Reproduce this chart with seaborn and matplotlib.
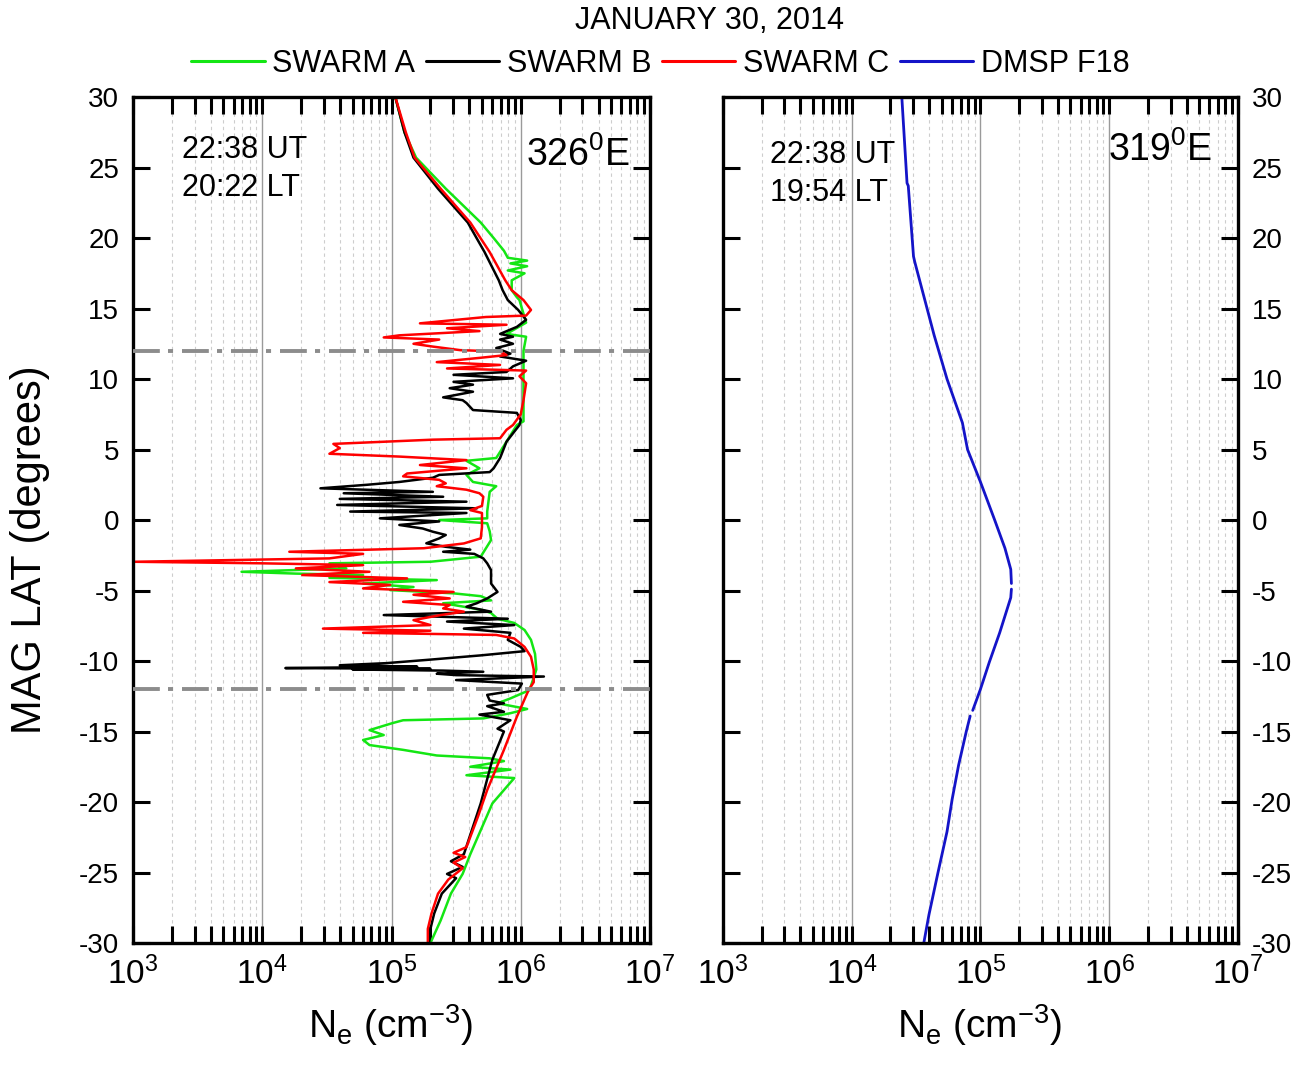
import matplotlib
matplotlib.use('Agg')
import matplotlib.pyplot as plt
import numpy as np
import seaborn as sns
from matplotlib.font_manager import FontProperties
from matplotlib.ticker import LogLocator, NullFormatter

sns.set_theme(style='white')
plt.rcParams['font.family'] = ['Liberation Sans', 'DejaVu Sans']
plt.rcParams['text.color'] = 'black'
plt.rcParams['axes.labelcolor'] = 'black'
plt.rcParams['xtick.color'] = 'black'
plt.rcParams['ytick.color'] = 'black'
NARROW = ['Liberation Sans Narrow', 'Liberation Sans', 'DejaVu Sans']

# ---- data: magnetic latitude (deg) vs electron density (cm^-3) ----
swarm_b_lat = [30.0, 27.5, 25.7, 23.5, 21.1, 19.0, 17.0, 16.3, 15.6, 14.9, 14.2, 13.7, 13.2, 13.0,
               12.8, 12.5, 12.2, 11.8, 11.6, 11.3, 10.9, 10.5, 10.3, 10.05, 9.8, 9.6, 9.35, 9.1,
               8.7, 8.5, 8.3, 7.8, 7.6, 7.1, 6.74, 5.56, 4.4, 3.67, 3.4, 3.2, 3.0, 2.7, 2.5, 2.25,
               2.0, 1.9, 1.65, 1.5, 1.3, 1.07, 0.83, 0.6, 0.5, 0.12, -0.1, -0.35, -0.6, -0.83,
               -1.06, -1.3, -1.65, -1.9, -2.1, -2.25, -2.4, -2.72, -3.07, -3.55, -4.0, -4.5, -5.1,
               -5.56, -5.9, -6.15, -6.5, -6.74, -7.0, -7.2, -7.45, -7.7, -8.0, -8.5, -9.0, -9.3,
               -9.6, -9.9, -10.15, -10.3, -10.4, -10.5, -10.55, -10.6, -10.68, -10.76, -10.9,
               -11.0, -11.1, -11.35, -11.6, -12.06,
               -12.4, -12.8, -13.0, -13.2, -13.6, -13.8, -14.2, -14.8, -15.0, -17.0, -20.1,
               -23.7, -24.2, -24.6, -25.1, -25.4, -26.5, -27.9, -29.0, -30.0]
swarm_b_ne = [1.07e5, 1.26e5, 1.48e5, 2.29e5, 3.89e5, 5.25e5, 6.76e5, 7.24e5, 7.94e5, 9.55e5, 1.10e6,
              9.33e5, 6.92e5, 8.71e5, 6.92e5, 8.71e5, 6.46e5, 8.32e5, 6.92e5, 1.10e6, 8.71e5, 7.76e5,
              3.02e5, 8.71e5, 3.02e5, 4.27e5, 2.82e5, 4.27e5, 2.51e5, 3.55e5, 3.80e5, 4.27e5, 9.33e5,
              1.00e6, 9.77e5, 7.76e5, 6.92e5, 6.17e5, 5.75e5, 2.34e5, 2.09e5, 1.15e5, 6.46e4, 2.82e4,
              2.09e5, 4.27e4, 2.51e5, 3.98e4, 3.80e5, 3.80e4, 4.57e5, 4.79e4, 3.80e5, 8.13e4, 2.34e5,
              1.15e5, 1.74e5, 2.09e5, 2.63e5, 2.34e5, 1.86e5, 2.63e5, 4.07e5, 2.51e5, 4.37e5, 5.13e5,
              5.50e5, 5.89e5, 5.89e5, 5.89e5, 6.61e5, 5.50e5, 4.57e5, 3.80e5, 5.89e5, 8.71e4, 7.94e5,
              2.69e5, 8.91e5, 3.63e5, 8.32e5, 7.94e5, 1.00e6, 1.07e6, 4.90e5, 2.00e5,
              9.12e4, 3.98e4, 1.58e5, 1.51e4, 2.00e5, 5.01e4, 2.51e5, 5.13e5, 2.24e5,
              3.16e5, 1.51e6, 3.16e5, 1.02e6, 9.55e5, 5.50e5, 5.75e5, 7.41e5, 5.50e5,
              7.41e5, 4.79e5, 8.32e5, 6.61e5, 7.41e5, 6.03e5, 4.90e5, 3.63e5, 2.88e5, 3.55e5, 2.69e5,
              3.16e5, 2.45e5, 2.14e5, 2.00e5, 1.95e5]

swarm_c_lat = [30.0, 27.5, 25.7, 23.5, 21.1, 19.0, 17.0, 16.3, 15.6, 14.9, 14.5, 14.4, 13.95, 13.85,
               13.6, 13.4, 13.1, 12.95, 12.8, 12.5, 12.3, 12.05, 11.95, 11.7, 11.5, 11.2, 11.0,
               10.75, 10.6, 10.2, 9.7, 8.5, 7.5, 6.74, 6.4, 5.8, 5.7, 5.4, 5.1, 4.7, 4.5, 4.25, 3.9,
               3.67, 3.3, 3.1, 2.85, 2.6, 2.4, 2.15, 1.9, 1.65, 1.0, 0.7, 0.5, -0.5, -1.3, -1.66,
               -2.0, -2.25, -2.4, -2.72, -2.96, -3.07, -3.2, -3.43, -3.67, -3.9, -4.14, -4.4, -4.6,
               -4.85, -5.1, -5.3, -5.56, -5.8, -6.03, -6.27, -6.5, -6.74, -7.1, -7.45, -7.7, -7.85,
               -8.0, -8.15, -8.4, -9.0, -9.7, -10.6, -11.5, -12.06, -13.95, -16.3, -19.15, -21.0,
               -23.2, -23.6, -23.9, -24.3, -24.7, -25.5, -26.5, -27.9, -29.0, -30.0]
swarm_c_ne = [1.07e5, 1.29e5, 1.51e5, 2.40e5, 4.07e5, 5.75e5, 7.59e5, 8.51e5, 1.05e6, 1.20e6, 1.10e6,
              5.37e5, 1.66e5, 7.76e5, 2.69e5, 4.79e5, 1.15e5, 8.71e4, 2.34e5, 1.48e5, 2.09e5, 3.39e5,
              6.92e5, 7.76e5, 4.79e5, 2.24e5, 6.92e5, 2.69e5, 1.10e6, 9.77e5, 1.10e6, 1.05e6, 1.00e6,
              8.71e5, 7.76e5, 6.92e5, 2.09e5, 3.55e4, 3.98e4, 3.31e4, 1.15e5, 3.80e5, 1.66e5, 3.80e5,
              1.32e5, 1.23e5, 2.34e5, 2.63e5, 2.24e5, 3.80e5, 4.79e5, 5.13e5, 5.01e5, 4.07e5, 5.01e5,
              5.01e5, 4.90e5, 3.63e5, 1.78e5, 1.62e4, 6.03e4, 3.31e4, 1.02e3, 1.00e4, 6.03e4, 1.82e4,
              6.76e4, 2.04e4, 1.32e5, 3.31e4, 9.77e4, 6.03e4, 3.02e5, 1.48e5, 2.82e5, 1.23e5, 2.82e5,
              2.51e5, 3.63e5, 2.40e5, 1.48e5, 2.00e5, 2.95e4, 2.00e5, 6.03e4, 6.46e5, 8.91e5, 1.07e6,
              1.20e6, 1.26e6, 1.26e6, 1.15e6, 9.33e5, 7.41e5, 5.50e5, 4.68e5, 3.80e5, 3.02e5, 3.72e5,
              3.02e5, 3.55e5, 2.75e5, 2.29e5, 2.04e5, 1.91e5, 1.91e5]

swarm_a_lat = [30.0, 27.5, 25.7, 23.5, 21.1, 20.0, 19.1, 18.6, 18.4, 18.2, 18.0, 17.7, 17.5, 17.0,
               16.3, 15.8, 15.6, 14.0, 13.2, 13.0, 12.0, 7.0, 6.74, 5.56, 4.4, 4.2, 3.67, 3.2, 2.7,
               2.4, 2.0, 0.6, 0.12, 0.0, -0.23, -0.8, -1.42, -2.6, -2.96, -3.07, -3.43, -3.67, -3.8,
               -3.9, -4.1, -4.26, -4.5, -4.75, -4.97, -5.2, -5.4, -5.7, -5.9, -6.15, -6.4, -6.6,
               -7.0, -7.3, -7.8, -8.5, -9.5, -10.6, -12.06, -12.65, -13.0, -13.4, -13.7, -14.07,
               -14.2, -14.4, -14.9, -15.25, -15.6, -15.96, -16.3, -16.7, -16.9, -17.1, -17.5, -17.7,
               -18.1, -18.3, -20.1, -23.7, -25.1, -26.5, -28.4, -30.0]
swarm_a_ne = [1.07e5, 1.26e5, 1.55e5, 2.63e5, 4.90e5, 6.17e5, 7.41e5, 7.94e5, 1.12e6, 8.32e5, 1.12e6,
              7.94e5, 1.07e6, 8.51e5, 8.51e5, 9.33e5, 9.77e5, 1.10e6, 7.76e5, 1.10e6, 1.05e6, 1.05e6,
              9.33e5, 7.76e5, 6.46e5, 3.80e5, 4.79e5, 3.80e5, 4.27e5, 6.46e5, 5.75e5, 5.50e5, 5.50e5,
              2.34e5, 5.50e5, 5.75e5, 5.89e5, 4.90e5, 2.00e5, 3.31e4, 4.47e4, 6.92e3, 1.82e4, 6.03e4,
              3.31e4, 2.24e5, 6.03e4, 1.48e5, 9.77e4, 3.02e5, 4.90e5, 5.89e5, 2.51e5, 3.63e5, 5.13e5,
              5.89e5, 6.61e5, 8.91e5, 1.07e6, 1.20e6, 1.29e6, 1.32e6, 1.17e6, 8.32e5, 6.61e5, 1.12e6,
              8.32e5, 5.13e5, 1.23e5, 1.02e5, 6.76e4, 8.71e4, 6.03e4, 6.76e4, 1.23e5, 2.24e5, 5.75e5,
              7.41e5, 4.07e5, 8.32e5, 3.80e5, 8.91e5, 6.03e5, 4.07e5, 3.55e5, 2.88e5, 2.40e5, 2.00e5]

dmsp_lat = [30.0, 23.9, 23.7, 18.7, 18.3, 13.1, 10.0, 6.9, 5.0, 2.7, 0.0, -2.0, -3.5, -4.5,
            -4.9, -5.5, -8.0, -10.1, -12.0, -13.5,
            -13.9, -15.0, -17.4, -19.8, -22.1, -25.0, -28.0, -30.0]
dmsp_ne = [2.45e4, 2.69e4, 2.75e4, 3.02e4, 3.09e4, 4.37e4, 5.50e4, 7.24e4, 7.94e4, 1.00e5, 1.29e5,
           1.55e5, 1.72e5, 1.74e5,
           1.74e5, 1.72e5, 1.41e5, 1.17e5, 1.00e5, 8.71e4,
           8.32e4, 7.76e4, 6.76e4, 6.03e4, 5.50e4, 4.68e4, 3.98e4, 3.63e4]
dmsp_segment = [0] * 14 + [1] * 6 + [2] * 8

series_names = ['SWARM A', 'SWARM B', 'SWARM C', 'DMSP F18']
series_colors = ['#14e614', '#000000', '#ff0000', '#1414c8']
x_decades = [1e3, 1e4, 1e5, 1e6, 1e7]
x_tick_labels = [r'$\mathregular{10^{3}}$', r'$\mathregular{10^{4}}$', r'$\mathregular{10^{5}}$',
                 r'$\mathregular{10^{6}}$', r'$\mathregular{10^{7}}$']
y_ticks = list(range(-30, 31, 5))
eq_bounds = [12, -12]


def style_axes(ax, label_side):
    ax.set_xscale('log')
    ax.set_xlim(1e3, 1e7)
    ax.set_ylim(-30, 30)
    ax.set_xticks(x_decades)
    ax.set_xticklabels(x_tick_labels, fontproperties=FontProperties(family=NARROW, size=24))
    ax.xaxis.set_minor_locator(LogLocator(base=10, subs=np.arange(2, 10)))
    ax.xaxis.set_minor_formatter(NullFormatter())
    ax.set_yticks(y_ticks)
    ax.set_yticklabels([str(v) for v in y_ticks])
    ax.grid(False)
    ax.grid(which='major', axis='x', color='#9a9a9a', lw=1.0, ls='-')
    ax.grid(which='minor', axis='x', color='#cdcdcd', lw=0.8, ls=(0, (3, 3)))
    ax.set_axisbelow(True)
    for sp in ax.spines.values():
        sp.set_color('black')
        sp.set_linewidth(2.4)
    ax.tick_params(axis='both', which='both', direction='in', length=12, width=2.2,
                   color='black', labelcolor='black', top=True, bottom=True, left=True, right=True)
    ax.tick_params(axis='x', which='both', pad=10)
    ax.tick_params(axis='y', labelsize=20, pad=10,
                   labelleft=(label_side == 'left'), labelright=(label_side == 'right'))
    ax.set_xlabel('')
    ax.set_ylabel('')


fig = plt.figure(figsize=(13.05, 10.77), dpi=100)
ax1 = fig.add_axes([0.1019, 0.1244, 0.3962, 0.7855])
ax2 = fig.add_axes([0.554, 0.1244, 0.3946, 0.7855])
ax1.set_xscale('log')
ax2.set_xscale('log')

# left panel: the three Swarm satellites
sns.lineplot(x=swarm_a_ne, y=swarm_a_lat, sort=False, estimator=None, color=series_colors[0],
             lw=1.8, ax=ax1)
sns.lineplot(x=swarm_b_ne, y=swarm_b_lat, sort=False, estimator=None, color=series_colors[1],
             lw=1.8, ax=ax1)
sns.lineplot(x=swarm_c_ne, y=swarm_c_lat, sort=False, estimator=None, color=series_colors[2],
             lw=1.8, ax=ax1)
for lat in eq_bounds:
    ax1.axhline(lat, color='#8c8c8c', lw=2.8, dashes=(6.9, 2.1, 1.3, 2.3), zorder=3)

# right panel: DMSP
sns.lineplot(x=dmsp_ne, y=dmsp_lat, units=dmsp_segment, sort=False, estimator=None,
             color=series_colors[3], lw=2.0, ax=ax2)

style_axes(ax1, 'left')
style_axes(ax2, 'right')

# annotations
ax1.text(0.095, 0.937, '22:38 UT', transform=ax1.transAxes, fontsize=22, va='center', ha='left')
ax1.text(0.095, 0.892, '20:22 LT', transform=ax1.transAxes, fontsize=22, va='center', ha='left')
ax1.text(0.961, 0.931, r'326$^\mathregular{0}$E', transform=ax1.transAxes, fontsize=27,
         va='center', ha='right')
ax2.text(0.091, 0.931, '22:38 UT', transform=ax2.transAxes, fontsize=22, va='center', ha='left')
ax2.text(0.091, 0.887, '19:54 LT', transform=ax2.transAxes, fontsize=22, va='center', ha='left')
ax2.text(0.95, 0.937, r'319$^\mathregular{0}$E', transform=ax2.transAxes, fontsize=27,
         va='center', ha='right')

# title, legend, axis labels
fig.text(0.544, 0.9805, 'JANUARY 30, 2014', ha='center', va='center', family=NARROW, fontsize=22)
handles = [plt.Line2D([], [], color=c, lw=2.2) for c in series_colors]
fig.legend(handles, series_names, loc='center', bbox_to_anchor=(0.506, 0.9405), ncol=4,
           frameon=False, handlelength=2.4, handletextpad=0.25, columnspacing=0.35,
           prop=FontProperties(family=NARROW, size=22))
fig.text(0.023, 0.490, 'MAG LAT (degrees)', rotation=90, ha='center', va='center',
         family=NARROW, fontsize=30)
xlab = r'N$_\mathregular{e}$ (cm$^\mathregular{-3}$)'
fig.text(0.2996, 0.048, xlab, ha='center', va='center', family=NARROW, fontsize=28)
fig.text(0.751, 0.048, xlab, ha='center', va='center', family=NARROW, fontsize=28)

fig.savefig('out.png', dpi=100)
